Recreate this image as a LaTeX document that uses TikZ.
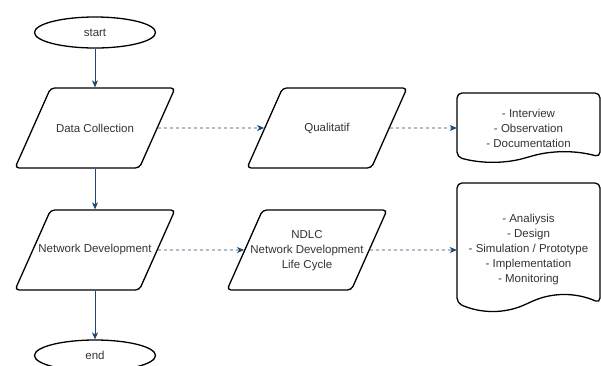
\documentclass[tikz,border=0pt]{standalone}
\usepackage{fontspec}
\setmainfont{Liberation Sans}
\usetikzlibrary{shapes.geometric,arrows.meta,calc}
\definecolor{txt}{RGB}{51,51,51}
\definecolor{flowblue}{RGB}{30,72,112}
% label of a data box: a zero-width, 80pt-tall box so the text may overhang the slanted sides
\newcommand{\iolabel}[1]{\parbox[c][80pt][c]{0pt}{\centering\makebox[0pt]{#1}}}
\tikzset{
  lbl/.style={font=\fontsize{11.5pt}{15pt}\selectfont, text=txt},
  terminal/.style={ellipse, draw, line width=1.3pt, lbl,
    minimum width=121pt, minimum height=31pt, inner sep=0pt},
  iobox/.style={trapezium, trapezium left angle=66, trapezium right angle=114,
    trapezium stretches body, draw, line width=1.3pt, rounded corners=4pt, lbl,
    minimum width=160pt, inner sep=0pt},
  doctext/.style={rectangle, lbl, align=center, inner sep=0pt,
    minimum width=143pt},
  docshape/.style={draw, line width=1.3pt, rounded corners=5pt},
  flow/.style={draw=flowblue, line width=0.9pt,
    -{Stealth[length=7pt,width=6pt,inset=2pt]}},
  dashflow/.style={flow, dash pattern=on 3pt off 3pt}
}
\begin{document}
\begin{tikzpicture}[x=1pt,y=-1pt]
\useasboundingbox (0,0) rectangle (601,365);
\clip (0,0) rectangle (601,365);

% main column
\node[terminal] (start) at (95,32.5) {start};
\node[iobox] (dc) at (95,128) {\iolabel{Data Collection}};
\node[iobox] (nd) at (95,250) {\iolabel{Network Development}};
\node[terminal] (end) at (95,355.5) {end};

% middle column
\node[iobox] (qual) at (327,128) {\iolabel{Qualitatif}};
\node[iobox] (ndlc) at (307,250)
  {\iolabel{\begin{tabular}{@{}c@{}}NDLC\\Network Development\\Life Cycle\end{tabular}}};

% document shapes with wavy bottom edge
\draw[docshape] (457,125) -- (457,93) -- (600,93) -- (600,157)
  .. controls (576.17,150.33) and (552.33,150.33) .. (528.5,157)
  .. controls (504.67,163.67) and (480.83,163.67) .. (457,157) -- cycle;
\node[doctext] (doc1) at (528.5,128) {- Interview\\- Observation\\- Documentation};

\draw[docshape] (457,240) -- (457,183) -- (600,183) -- (600,303)
  .. controls (576.17,292.33) and (552.33,292.33) .. (528.5,303)
  .. controls (504.67,313.67) and (480.83,313.67) .. (457,303) -- cycle;
\node[doctext] (doc2) at (528.5,250)
  {- Analiysis\\- Design\\- Simulation / Prototype\\- Implementation\\- Monitoring};

% connectors
\draw[flow] (start) -- (dc);
\draw[flow] (dc) -- (nd);
\draw[flow] (nd) -- (end);
\draw[dashflow] (dc) -- (qual);
\draw[dashflow] (qual) -- (doc1);
\draw[dashflow] (nd) -- (ndlc);
\draw[dashflow] (ndlc) -- (doc2);
\end{tikzpicture}
\end{document}
